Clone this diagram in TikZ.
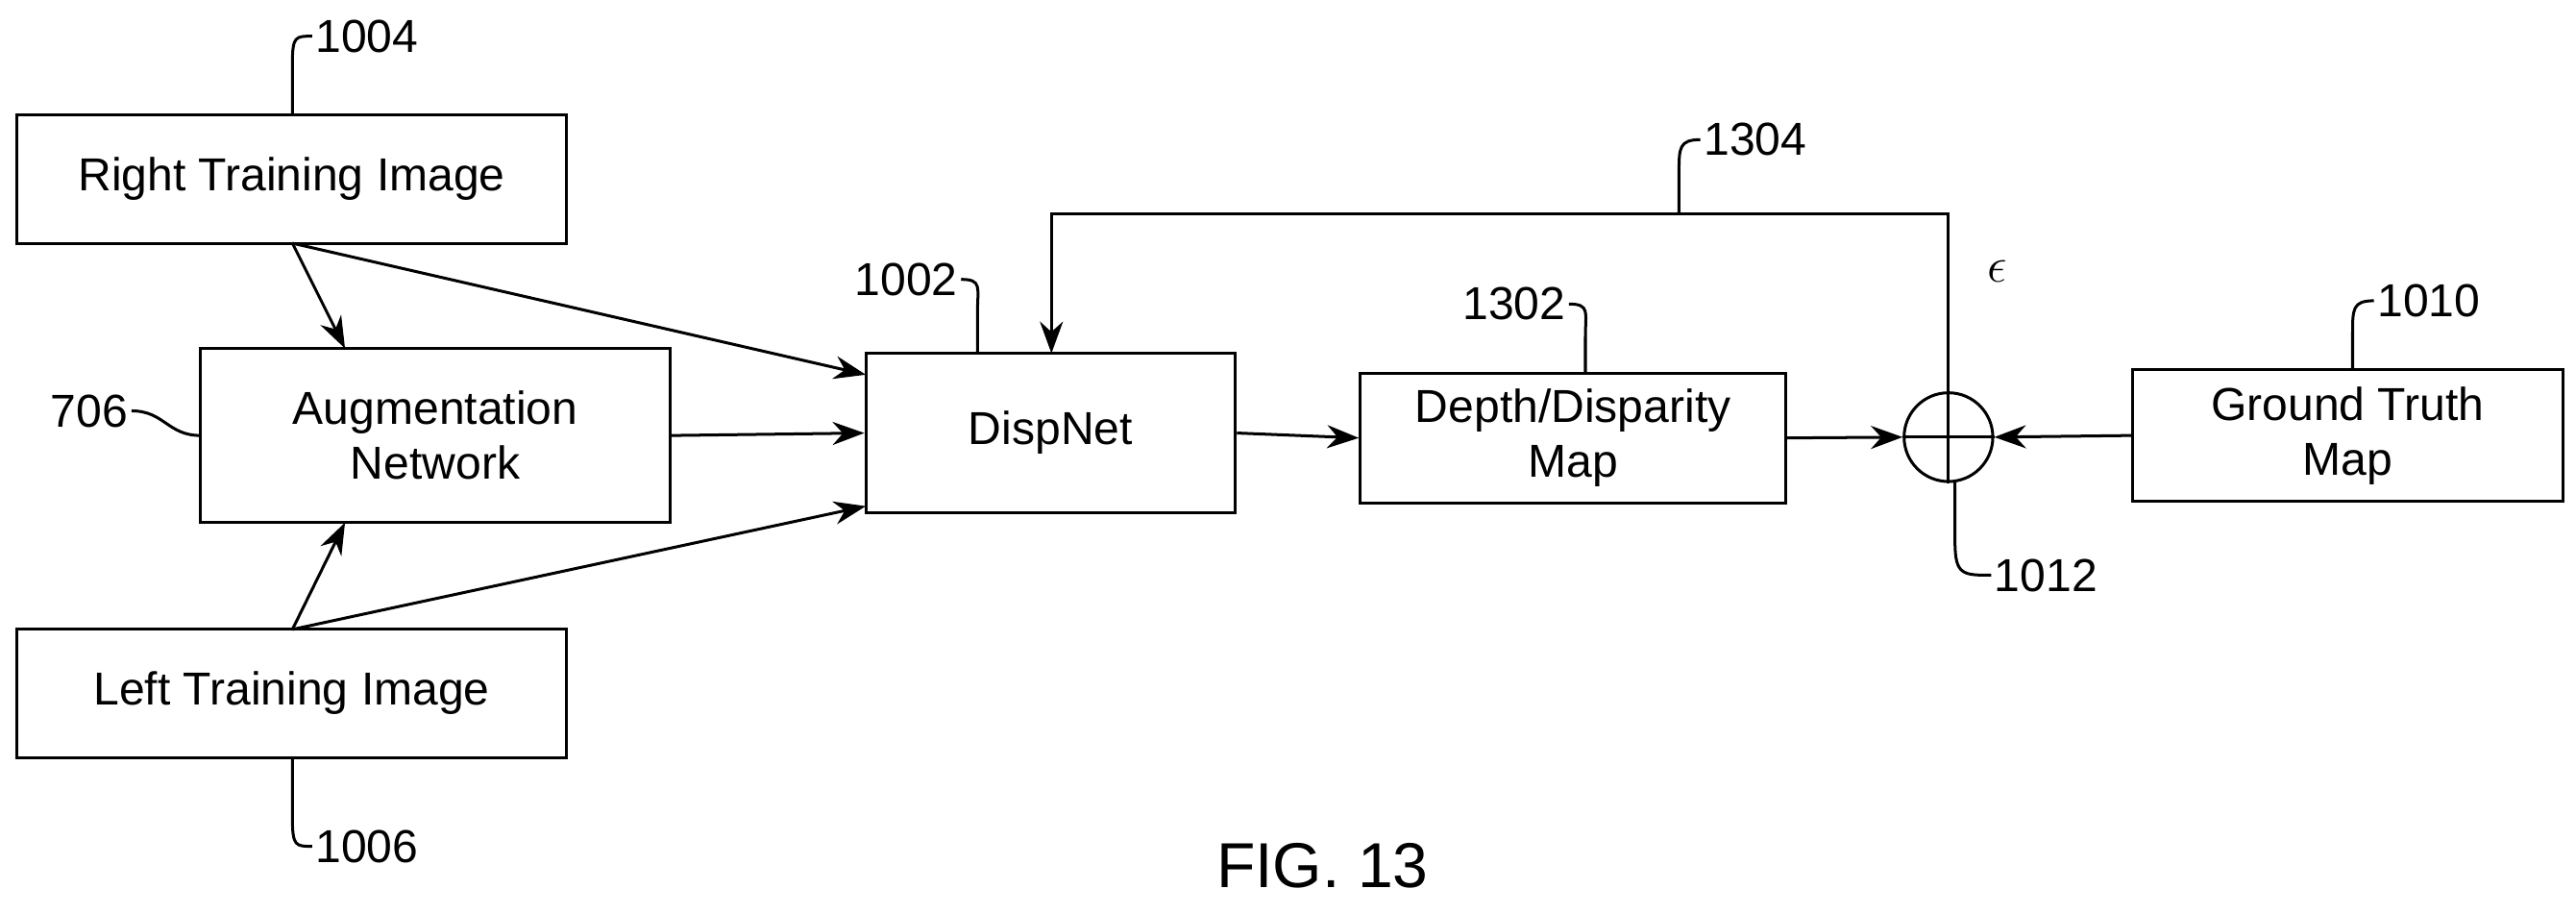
\documentclass[tikz,border=0pt]{standalone}
\usepackage{fontspec}
\setmainfont{Liberation Sans}
\usetikzlibrary{arrows.meta}
\begin{document}
\begin{tikzpicture}[x=0.02cm,y=-0.02cm,
  box/.style={draw,line width=1pt,align=center,font=\fontsize{16}{19}\selectfont,inner sep=0pt},
  arr/.style={line width=1pt,-{Stealth[length=11pt,width=8pt]}},
  lead/.style={line width=1pt},
  lbl/.style={font=\fontsize{16}{19}\selectfont,inner sep=1pt}]
\useasboundingbox (0,0) rectangle (1568,556);
\node[box,minimum width=335*0.02cm,minimum height=78*0.02cm] (rti) at (177.5,109) {Right Training Image};
\node[box,minimum width=286*0.02cm,minimum height=106*0.02cm] (aug) at (265,265) {Augmentation\\Network};
\node[box,minimum width=335*0.02cm,minimum height=78*0.02cm] (lti) at (177.5,422) {Left Training Image};
\node[box,minimum width=225*0.02cm,minimum height=97*0.02cm] (disp) at (639.5,263.5) {DispNet};
\node[box,minimum width=259*0.02cm,minimum height=79*0.02cm] (dm) at (957.5,266.5) {Depth/Disparity\\Map};
\node[box,minimum width=262*0.02cm,minimum height=80*0.02cm] (gt) at (1429,265) {Ground Truth\\Map};
\node[draw,circle,line width=1pt,minimum size=54*0.02cm,inner sep=0pt] (sum) at (1186,266) {};
\draw[line width=1pt] (sum.north)--(sum.south) (sum.west)--(sum.east);
% arrows
\coordinate (rb) at (178,148);
\coordinate (lt) at (178,383);
\draw[arr] (rb)--(210,212);
\draw[arr] (rb)--(527,228);
\draw[arr] (aug.east)--(disp.west);
\draw[arr] (lt)--(210,318);
\draw[arr] (lt)--(527,308);
\draw[arr] (disp.east)--(dm.west);
\draw[arr] (dm.east)--(sum.west);
\draw[arr] (gt.west)--(sum.east);
\draw[arr] (sum.north)--(1186,130)--(640,130)--(640,215);
\node[font=\fontsize{16}{19}\selectfont] (eps) at (1216,165) {$\epsilon$};
% leaders and labels
\node[lbl,anchor=west] (l1004) at (190,22) {1004};
\draw[lead] (178,70)--(178,38) .. controls (178,22) and (180,22) .. (l1004.west);
\node[lbl,anchor=west] (l1006) at (190,515) {1006};
\draw[lead] (178,461)--(178,498) .. controls (178,515) and (180,515) .. (l1006.west);
\node[lbl,anchor=east] (l706) at (80,250) {706};
\draw[lead] (l706.east) .. controls (100,250) and (102,265) .. (122,265);
\node[lbl,anchor=east] (l1002) at (585,170) {1002};
\draw[lead] (l1002.east) .. controls (598,170) and (595,175) .. (595,190)--(595,215);
\node[lbl,anchor=east] (l1302) at (955,185) {1302};
\draw[lead] (l1302.east) .. controls (968,185) and (965,190) .. (965,205)--(965,227);
\node[lbl,anchor=west] (l1304) at (1035,85) {1304};
\draw[lead] (l1304.west) .. controls (1022,85) and (1022,90) .. (1022,105)--(1022,130);
\node[lbl,anchor=west] (l1010) at (1445,183) {1010};
\draw[lead] (l1010.west) .. controls (1432,183) and (1432,188) .. (1432,203)--(1432,225);
\node[lbl,anchor=west] (l1012) at (1212,350) {1012};
\draw[lead] (1190,293)--(1190,330) .. controls (1190,350) and (1195,350) .. (l1012.west);
\node[font=\fontsize{22}{26}\selectfont] (fig) at (805,527) {FIG. 13};
\end{tikzpicture}
\end{document}
